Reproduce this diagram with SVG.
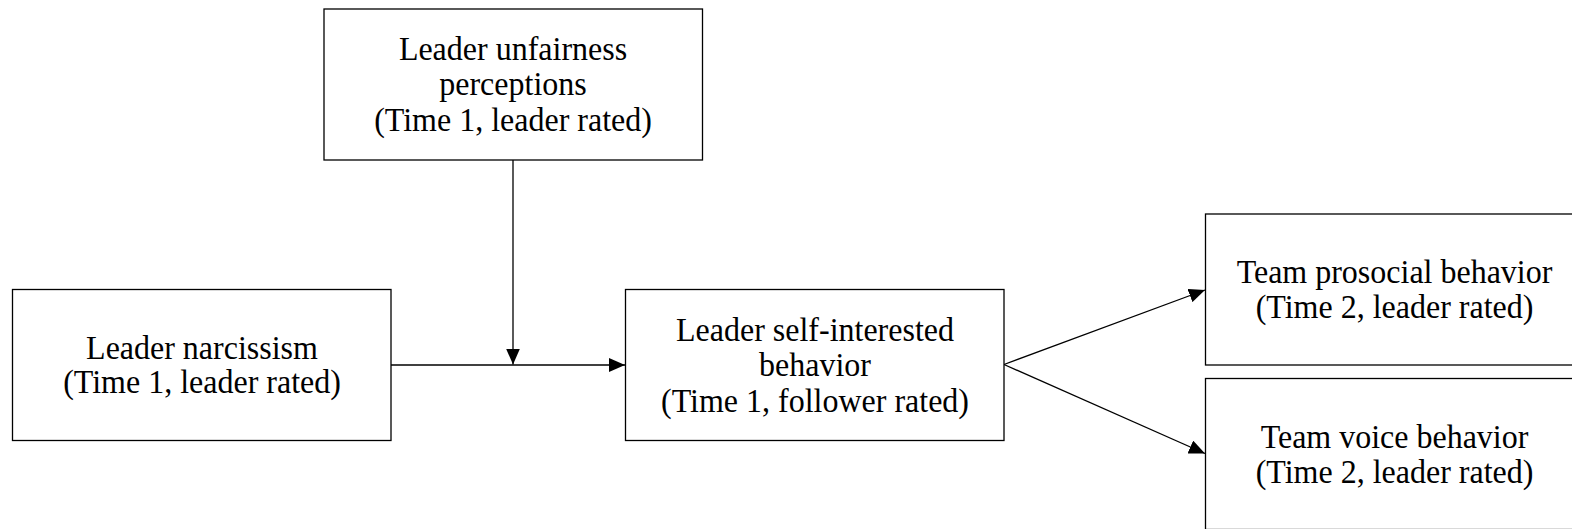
<svg xmlns="http://www.w3.org/2000/svg" width="1572" height="529" viewBox="0 0 1572 529">
<style>
.box{fill:#fff;stroke:#000;stroke-width:1.3}
.t{font-family:"Liberation Serif","Times New Roman",serif;font-size:33.5px;fill:#000;text-anchor:middle}
.c{stroke:#000;stroke-width:1.3;fill:none}
</style>
<defs>
<marker id="ah" viewBox="0 0 16 14" refX="16" refY="7" markerWidth="16" markerHeight="14" markerUnits="userSpaceOnUse" orient="auto">
<path d="M0,0 L16,7 L0,14 Z" fill="#000"/>
</marker>
</defs>
<rect width="1572" height="529" fill="#fff"/>
<g id="connectors">
<line class="c" x1="391" y1="365" x2="625" y2="365" marker-end="url(#ah)"/>
<line class="c" x1="513" y1="160" x2="513" y2="364.5" marker-end="url(#ah)"/>
<line class="c" x1="1004" y1="364.5" x2="1205" y2="290" marker-end="url(#ah)"/>
<line class="c" x1="1004" y1="364.5" x2="1205" y2="453.5" marker-end="url(#ah)"/>
</g>
<g id="unfairness">
<rect class="box" x="324" y="9" width="378.5" height="151"/>
<g transform="translate(513,0) scale(0.955,1)">
<text class="t" x="0" y="60">Leader unfairness</text>
<text class="t" x="0" y="95.5">perceptions</text>
<text class="t" x="0" y="131">(Time 1, leader rated)</text>
</g>
</g>
<g id="narcissism">
<rect class="box" x="12.5" y="289.5" width="378.5" height="151"/>
<g transform="translate(202,0) scale(0.955,1)">
<text class="t" x="0" y="359">Leader narcissism</text>
<text class="t" x="0" y="393">(Time 1, leader rated)</text>
</g>
</g>
<g id="selfinterest">
<rect class="box" x="625.5" y="289.5" width="378.5" height="151"/>
<g transform="translate(815,0) scale(0.955,1)">
<text class="t" x="0" y="341">Leader self-interested</text>
<text class="t" x="0" y="376.5">behavior</text>
<text class="t" x="0" y="412">(Time 1, follower rated)</text>
</g>
</g>
<g id="prosocial">
<rect class="box" x="1205.5" y="214" width="378.5" height="151"/>
<g transform="translate(1394.5,0) scale(0.955,1)">
<text class="t" x="0" y="283">Team prosocial behavior</text>
<text class="t" x="0" y="318">(Time 2, leader rated)</text>
</g>
</g>
<g id="voice">
<rect class="box" x="1205.5" y="378.5" width="378.5" height="151"/>
<g transform="translate(1394.5,0) scale(0.955,1)">
<text class="t" x="0" y="448">Team voice behavior</text>
<text class="t" x="0" y="483">(Time 2, leader rated)</text>
</g>
</g>
</svg>
